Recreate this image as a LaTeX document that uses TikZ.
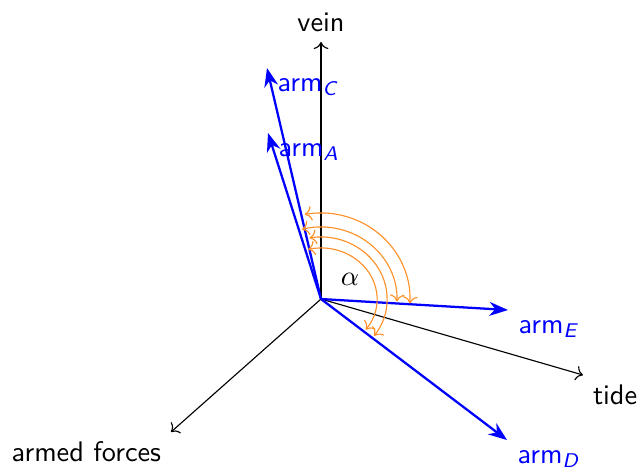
\documentclass[tikz,border=0pt]{standalone}
\usepackage{amsmath}
\usepackage{tikz}
\usetikzlibrary{arrows.meta, positioning}
\definecolor{azulBraco}{RGB}{0,0,255}
\definecolor{laranjaArco}{RGB}{255,145,40}

\begin{document}
\begin{tikzpicture}[
    x=0.3533pt, y=0.3533pt,
    font=\sffamily,
    axis/.style={->},
    arm/.style={thick, -{Stealth}, draw=azulBraco},
    armlabel/.style={below right, text=azulBraco},
    anglearc/.style={<->, draw=laranjaArco}
]
    \useasboundingbox (-321,-174) rectangle (322,299);

    % Pontos
    \coordinate (O) at (0,0);
    \coordinate (veinTip) at (0,257);
    \coordinate (tideTip) at (262,-76);
    \coordinate (forcesTip) at (-150,-133);
    \coordinate (armCTip) at (-54,231);
    \coordinate (armATip) at (-53,166);
    \coordinate (armETip) at (187,-11);
    \coordinate (armDTip) at (186,-141);

    % Eixos
    \draw[axis] (O) -- (veinTip) node[above] (vein) {vein};
    \draw[axis] (O) -- (tideTip) node[below right] (tide) {tide};
    \draw[axis] (O) -- (forcesTip) node[below left] (forces) {armed forces};

    % Braços
    \draw[arm] (O) -- (armCTip) node[armlabel] (armC) {arm$_{\textit{C}}$};
    \draw[arm] (O) -- (armATip) node[armlabel] (armA) {arm$_{\textit{A}}$};
    \draw[arm] (O) -- (armETip) node[armlabel] (armE) {arm$_{\textit{E}}$};
    \draw[arm] (O) -- (armDTip) node[armlabel] (armD) {arm$_{\textit{D}}$};

    % Arcos
    \draw[anglearc] ([shift={(-37:56 and 51)}]O) arc[start angle=-37, end angle=103.4, x radius=56, y radius=51];
    \draw[anglearc] ([shift={(-36.5:66 and 62)}]O) arc[start angle=-36.5, end angle=100, x radius=66, y radius=62];
    \draw[anglearc] ([shift={(-2:76 and 72)}]O) arc[start angle=-2, end angle=104.5, x radius=76, y radius=72];
    \draw[anglearc] ([shift={(-3:89 and 86)}]O) arc[start angle=-3, end angle=100.5, x radius=89, y radius=86];
    \node (alpha) at (29,20) {$\alpha$};
\end{tikzpicture}
\end{document}
